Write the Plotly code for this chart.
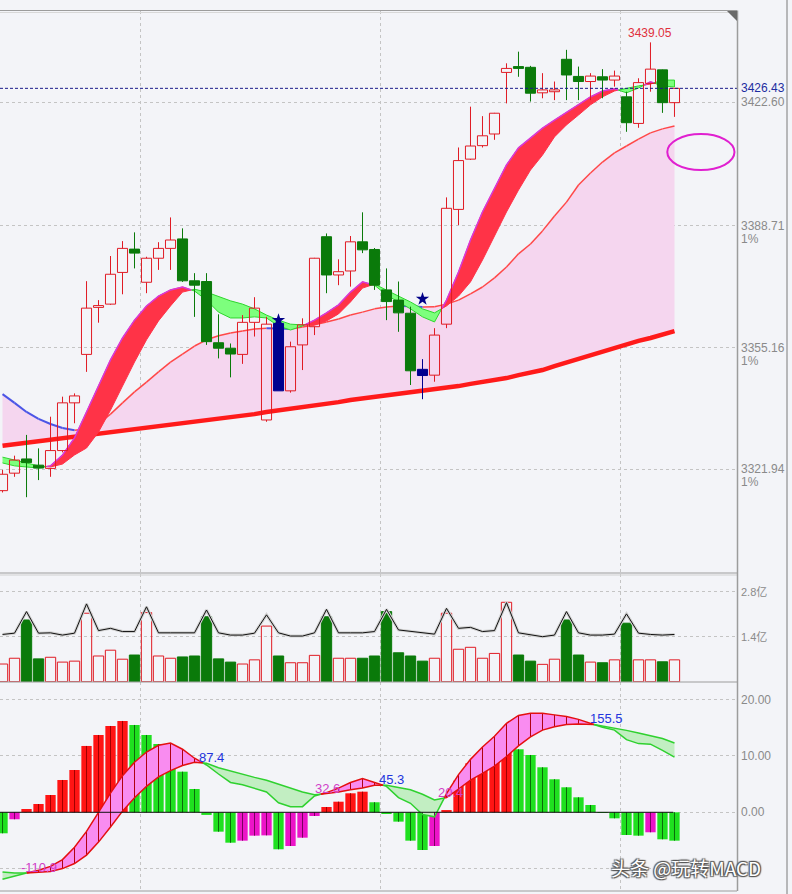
import plotly.graph_objects as go

# ---------------- data ----------------
OPEN = [3316.0, 3320.8, 3324.7, 3323.0, 3322.1, 3327.0, 3340.1, 3353.4, 3366.3, 3367.2,
        3375.9, 3382.3, 3373.2, 3379.8, 3382.5, 3385.1, 3373.6, 3373.4, 3356.6, 3355.1,
        3353.4, 3362.2, 3335.4, 3361.9, 3343.4, 3356.0, 3361.0, 3385.7, 3375.2, 3376.3,
        3384.3, 3382.2, 3371.1, 3368.3, 3364.7, 3349.3, 3347.7, 3361.7, 3393.2, 3407.0,
        3410.7, 3413.9, 3430.8, 3432.4, 3432.2, 3425.2, 3425.5, 3434.4, 3429.7, 3428.3,
        3429.6, 3428.7, 3424.1, 3416.8, 3427.8, 3431.5, 3422.5]
HIGH = [3321.7, 3325.6, 3331.3, 3327.6, 3336.3, 3341.8, 3342.7, 3373.5, 3368.3, 3380.4,
        3384.5, 3386.9, 3380.2, 3384.2, 3391.0, 3388.0, 3375.7, 3375.7, 3364.4, 3356.4,
        3364.2, 3369.1, 3363.7, 3363.4, 3356.9, 3363.3, 3379.9, 3386.6, 3379.5, 3385.9,
        3392.4, 3382.6, 3377.0, 3373.4, 3366.5, 3352.1, 3360.6, 3396.5, 3410.2, 3421.4,
        3418.8, 3419.7, 3433.3, 3436.5, 3432.6, 3430.6, 3428.3, 3437.0, 3432.4, 3430.6,
        3431.7, 3431.3, 3425.5, 3429.2, 3439.05, 3431.6, 3426.5]
LOW = [3315.5, 3319.8, 3314.2, 3318.9, 3319.8, 3326.5, 3334.5, 3348.6, 3362.1, 3367.0,
       3369.9, 3377.0, 3370.2, 3376.6, 3376.6, 3373.3, 3363.7, 3356.0, 3352.3, 3347.1,
       3350.8, 3358.3, 3334.9, 3343.4, 3342.9, 3349.1, 3358.7, 3370.2, 3372.4, 3372.0,
       3381.2, 3371.1, 3362.8, 3359.6, 3345.0, 3341.1, 3345.9, 3360.6, 3388.9, 3406.8,
       3410.2, 3412.3, 3422.3, 3429.6, 3422.8, 3423.7, 3423.2, 3423.2, 3423.2, 3423.2,
       3423.7, 3426.9, 3414.5, 3415.6, 3425.5, 3419.7, 3418.6]
CLOSE = [3320.5, 3324.4, 3323.7, 3322.2, 3327.0, 3340.1, 3342.0, 3366.1, 3366.8, 3375.4,
         3382.5, 3381.2, 3379.8, 3382.5, 3384.8, 3373.6, 3372.4, 3356.9, 3355.1, 3353.5,
         3362.2, 3366.1, 3361.7, 3343.4, 3355.5, 3361.5, 3379.8, 3375.2, 3376.1, 3384.3,
         3382.1, 3372.4, 3367.9, 3364.8, 3348.9, 3347.6, 3358.7, 3393.5, 3406.6, 3410.6,
         3413.4, 3419.6, 3431.9, 3431.9, 3425.1, 3426.0, 3426.0, 3430.1, 3428.3, 3429.8,
         3428.7, 3429.8, 3417.0, 3428.0, 3431.7, 3422.5, 3426.43]
SIGNAL_BARS = [23, 35]            # candles drawn in blue
STAR_BARS = [23, 35]
STAR_PRICE = [3362.8, 3368.6]

FAST_MA = [3323.6, 3322.8, 3322.5, 3322.2, 3322.8, 3325.8, 3330.5, 3337.6, 3345.0, 3351.9,
           3357.9, 3362.8, 3366.7, 3369.4, 3371.1, 3371.9, 3370.8, 3368.3, 3365.0, 3363.4,
           3363.4, 3363.7, 3363.4, 3361.2, 3360.1, 3361.2, 3362.8, 3364.8, 3367.0, 3370.5,
           3373.3, 3372.4, 3369.7, 3367.8, 3365.9, 3363.7, 3362.3, 3368.3, 3376.0, 3384.8,
           3392.5, 3399.1, 3405.4, 3410.1, 3412.8, 3415.5, 3417.7, 3419.9, 3422.1, 3424.1,
           3425.7, 3426.3, 3425.2, 3426.5, 3428.2, 3427.1, 3426.8]
SLOW_MA = [3325.2, 3324.4, 3323.6, 3322.8, 3322.5, 3323.3, 3325.8, 3327.7, 3332.1, 3338.1,
           3344.7, 3351.3, 3357.4, 3362.6, 3366.7, 3370.5, 3371.3, 3370.5, 3369.2, 3368.1,
           3367.2, 3365.9, 3364.2, 3362.8, 3361.7, 3361.5, 3361.5, 3362.6, 3364.5, 3367.8,
           3371.6, 3372.7, 3371.1, 3369.4, 3367.8, 3365.9, 3364.8, 3366.7, 3369.4, 3373.3,
           3379.3, 3385.9, 3392.5, 3398.5, 3404.0, 3408.1, 3413.1, 3416.4, 3419.1, 3421.9,
           3424.1, 3425.7, 3426.5, 3427.1, 3427.6, 3428.7, 3428.7]
MID_MA = [3342.5, 3340.1, 3337.6, 3335.7, 3334.3, 3333.2, 3332.6, 3332.9, 3334.3, 3337.0,
          3340.1, 3343.1, 3345.8, 3348.6, 3351.3, 3353.5, 3355.7, 3357.4, 3358.5, 3359.3,
          3359.8, 3360.4, 3360.6, 3360.5, 3360.4, 3360.9, 3361.5, 3362.3, 3363.1, 3364.2,
          3365.0, 3365.9, 3366.4, 3366.7, 3366.6, 3366.4, 3366.5, 3367.2, 3368.3, 3370.0,
          3371.9, 3374.4, 3377.4, 3381.0, 3383.7, 3387.3, 3391.4, 3395.2, 3399.9, 3403.2,
          3406.2, 3408.7, 3410.6, 3412.5, 3414.2, 3415.3, 3416.1]
LONG_MA = [3328.3, 3328.7, 3329.1, 3329.5, 3329.9, 3330.3, 3330.7, 3331.1, 3331.5, 3332.0,
           3332.4, 3332.8, 3333.2, 3333.6, 3334.0, 3334.4, 3334.8, 3335.3, 3335.7, 3336.1,
           3336.5, 3337.0, 3337.6, 3338.0, 3338.4, 3339.0, 3339.5, 3339.9, 3340.3, 3340.9,
           3341.3, 3341.7, 3342.1, 3342.5, 3342.9, 3343.4, 3343.9, 3344.3, 3344.7, 3345.3,
           3345.8, 3346.2, 3346.9, 3347.7, 3348.4, 3349.1, 3350.2, 3351.2, 3352.1, 3353.2,
           3354.3, 3355.2, 3356.0, 3357.1, 3357.9, 3358.9, 3359.8]

VOLUME = [0.55, 0.73, 1.92, 0.71, 0.76, 0.61, 0.64, 2.13, 0.80, 0.98,
          0.70, 0.83, 2.15, 0.80, 0.73, 0.77, 0.80, 2.02, 0.71, 0.61,
          0.55, 0.68, 1.73, 0.80, 0.59, 0.59, 0.82, 2.02, 0.73, 0.73,
          0.73, 0.80, 2.18, 0.90, 0.80, 0.64, 0.73, 2.13, 1.01, 1.07,
          0.73, 0.88, 2.47, 0.83, 0.64, 0.54, 0.70, 1.92, 0.83, 0.61,
          0.59, 0.68, 1.82, 0.68, 0.68, 0.62, 0.68]
VOL_LINE = [1.47, 1.51, 2.18, 1.51, 1.52, 1.45, 1.51, 2.42, 1.59, 1.66,
            1.56, 1.56, 2.33, 1.52, 1.52, 1.52, 1.52, 2.23, 1.52, 1.45,
            1.45, 1.51, 2.08, 1.52, 1.42, 1.42, 1.52, 2.25, 1.52, 1.52,
            1.52, 1.56, 2.25, 1.61, 1.56, 1.51, 1.48, 2.28, 1.66, 1.69,
            1.56, 1.59, 2.46, 1.52, 1.45, 1.40, 1.45, 2.18, 1.52, 1.45,
            1.45, 1.48, 2.11, 1.51, 1.47, 1.45, 1.47]

MACD_HIST = [-3.73, -1.24, 0.59, 1.47, 3.07, 5.74, 7.51, 11.78, 13.73, 15.33,
             16.22, 15.51, 13.73, 12.13, 8.70, 7.21, 4.14, -0.47, -3.44, -5.40,
             -5.04, -4.15, -4.10, -6.57, -5.99, -4.51, -0.66, 0.94, 1.88, 3.37,
             3.66, 1.78, -0.30, -1.66, -5.04, -6.70, -5.99, 0.40, 5.62, 8.70,
             10.18, 11.37, 12.36, 11.19, 10.18, 7.99, 5.86, 4.44, 2.66, 1.30,
             0.05, -1.07, -4.03, -4.15, -3.55, -4.80, -5.04]
DIF = [-11.9, -11.3, -10.8, -10.3, -9.6, -8.4, -6.2, -3.4, 0.0, 3.4,
       6.5, 8.9, 10.7, 11.9, 12.3, 11.2, 9.6, 8.4, 6.8, 5.3,
       4.9, 4.2, 3.6, 1.7, 1.0, 1.0, 2.9, 3.5, 4.3, 5.3,
       6.0, 5.3, 4.6, 2.6, 1.6, -0.4, -0.8, 3.3, 6.7, 9.4,
       11.6, 13.5, 15.8, 17.2, 17.6, 17.6, 17.3, 17.0, 16.5, 15.8,
       15.1, 14.6, 12.9, 12.2, 12.1, 11.0, 9.8]
DEA = [-10.6, -10.8, -10.8, -10.7, -10.5, -10.0, -9.1, -7.6, -5.3, -2.6,
       0.2, 2.6, 4.6, 6.3, 7.4, 8.3, 8.9, 8.7, 7.9, 7.3,
       6.7, 6.2, 5.7, 5.0, 4.2, 3.6, 3.1, 3.3, 3.6, 4.0,
       4.3, 4.8, 4.8, 4.4, 4.0, 3.2, 2.2, 2.6, 4.1, 5.7,
       6.9, 8.2, 9.9, 11.8, 13.4, 14.6, 15.2, 15.6, 15.7, 15.7,
       15.35, 14.9, 14.55, 14.1, 13.6, 13.1, 12.3]
CROSS_TEXT = ["-110.9", "87.4", "32.6", "45.3", "20.4", "155.5"]
CROSS_KIND = ["gold", "dead", "gold", "dead", "gold", "dead"]

PRICE_GRID = [3422.60, 3388.71, 3355.16, 3321.94]
PRICE_GRID_PCT = ["", "1%", "1%", "1%"]
LAST_PRICE = 3426.43
VOL_GRID = [1.4, 2.8]
VOL_GRID_TEXT = ["1.4亿", "2.8亿"]
MACD_GRID = [-10, 0, 10, 20]
MACD_LABELS = [0, 10, 20]
VGRID = [11.5, 31.5, 51.5]
WATERMARK = "头条 @玩转MACD"

# ---------------- geometry / style ----------------
W, H = 792, 894
PLOT_R = 737
X_RANGE = [-0.21, 61.21]
N = len(CLOSE)
X = list(range(N))

RED = '#e01b24'
DGREEN = '#0a7a0a'
NAVY = '#00008f'
GRAYTXT = '#8a8a8a'
FONT = 'Liberation Sans, Arial, sans-serif'


def pyp(px):
    return 1 - px / H


def runs_between(xs, a, b):
    runs, cur = [], None
    for i in range(len(xs)):
        up = a[i] >= b[i]
        if cur is None:
            cur = [up, [xs[i]], [a[i]], [b[i]]]
            continue
        if up == cur[0]:
            cur[1].append(xs[i]); cur[2].append(a[i]); cur[3].append(b[i])
        else:
            d0 = a[i - 1] - b[i - 1]
            d1 = a[i] - b[i]
            t = d0 / (d0 - d1)
            xi = xs[i - 1] + t * (xs[i] - xs[i - 1])
            yi = a[i - 1] + t * (a[i] - a[i - 1])
            cur[1].append(xi); cur[2].append(yi); cur[3].append(yi)
            runs.append(cur)
            cur = [up, [xi, xs[i]], [yi, a[i]], [yi, b[i]]]
    runs.append(cur)
    return runs


def polys(runs, want_up):
    px, py = [], []
    for up, xs, a, b in runs:
        if up != want_up:
            continue
        px += xs + xs[::-1] + [None]
        py += a + b[::-1] + [None]
    return px, py


def run_lines(runs, want_up, which):
    px, py = [], []
    for r in runs:
        if r[0] != want_up:
            continue
        px += r[1] + [None]
        py += r[which] + [None]
    return px, py


def slope_segments(v, rising):
    px, py = [], []
    for i in range(len(v) - 1):
        if (v[i + 1] >= v[i]) == rising:
            px += [X[i], X[i + 1], None]
            py += [v[i], v[i + 1], None]
    return px, py


fig = go.Figure()

# ---- main panel: pink area between mid and long MA
fig.add_trace(go.Scatter(x=X, y=LONG_MA, mode='lines', line=dict(width=0, color='rgba(0,0,0,0)'),
                         showlegend=False, hoverinfo='skip'))
fig.add_trace(go.Scatter(x=X, y=MID_MA, mode='lines', line=dict(width=0, color='rgba(0,0,0,0)'),
                         fill='tonexty', fillcolor='#f5d6ef', showlegend=False, hoverinfo='skip'))
fig.add_trace(go.Scatter(x=X, y=LONG_MA, mode='lines', line=dict(width=4.5, color='#ff1a1a'),
                         showlegend=False, hoverinfo='skip'))
for rising, col, wd in [(True, '#ff4848', 1.5), (False, '#4b55e6', 2)]:
    sx, sy = slope_segments(MID_MA, rising)
    fig.add_trace(go.Scatter(x=sx, y=sy, mode='lines', line=dict(width=wd, color=col),
                             showlegend=False, hoverinfo='skip'))

# ---- short MA ribbon
rib = runs_between(X, FAST_MA, SLOW_MA)
for up, fillc, edge in [(True, '#ff3347', '#ff3347'), (False, '#7dff7d', '#2fd62f')]:
    px, py = polys(rib, up)
    fig.add_trace(go.Scatter(x=px, y=py, mode='lines', fill='toself', fillcolor=fillc,
                             line=dict(width=1, color=edge), showlegend=False, hoverinfo='skip'))
fx, fy = run_lines(rib, True, 2)
fig.add_trace(go.Scatter(x=fx, y=fy, mode='lines', line=dict(width=1.5, color='#d838d8'),
                         showlegend=False, hoverinfo='skip'))

# ---- candles
HW = 0.42
groups = {'up': [], 'down': [], 'sig': []}
for i in X:
    if i in SIGNAL_BARS:
        groups['sig'].append(i)
    elif CLOSE[i] >= OPEN[i]:
        groups['up'].append(i)
    else:
        groups['down'].append(i)

for key, col in [('up', RED), ('down', DGREEN), ('sig', NAVY)]:
    wx, wy, bx, by = [], [], [], []
    for i in groups[key]:
        top = max(OPEN[i], CLOSE[i])
        bot = min(OPEN[i], CLOSE[i])
        if HIGH[i] > top:
            wx += [i, i, None]; wy += [top, HIGH[i], None]
        if LOW[i] < bot:
            wx += [i, i, None]; wy += [bot, LOW[i], None]
        bx += [i - HW, i + HW, i + HW, i - HW, i - HW, None]
        by += [bot, bot, top, top, bot, None]
    fig.add_trace(go.Scatter(x=wx, y=wy, mode='lines', line=dict(width=1, color=col),
                             showlegend=False, hoverinfo='skip'))
    if key == 'up':
        fig.add_trace(go.Scatter(x=bx, y=by, mode='lines', line=dict(width=1, color=col),
                                 showlegend=False, hoverinfo='skip'))
    else:
        fig.add_trace(go.Scatter(x=bx, y=by, mode='lines', fill='toself', fillcolor=col,
                                 line=dict(width=1, color=col), showlegend=False, hoverinfo='skip'))

fig.add_trace(go.Scatter(x=STAR_BARS, y=STAR_PRICE, mode='markers',
                         marker=dict(symbol='star', size=10, color='#000088'),
                         showlegend=False, hoverinfo='skip'))

# ---- volume panel
is_up = [(CLOSE[i] >= OPEN[i] and i not in SIGNAL_BARS) for i in X]
vol_up = [VOLUME[i] if is_up[i] else None for i in X]
vol_dn = [VOLUME[i] if not is_up[i] else None for i in X]
fig.add_trace(go.Bar(x=X, y=vol_dn, width=0.86, marker=dict(color=DGREEN, line=dict(width=1, color=DGREEN)),
                     xaxis='x2', yaxis='y2', showlegend=False, hoverinfo='skip'))
fig.add_trace(go.Bar(x=X, y=vol_up, width=0.86, marker=dict(color='rgba(0,0,0,0)', line=dict(width=1, color=RED)),
                     xaxis='x2', yaxis='y2', showlegend=False, hoverinfo='skip'))
fig.add_trace(go.Scatter(x=X, y=VOL_LINE, mode='lines', line=dict(width=3, color='#d2d2d2'),
                         xaxis='x2', yaxis='y2', showlegend=False, hoverinfo='skip'))
fig.add_trace(go.Scatter(x=X, y=VOL_LINE, mode='lines', line=dict(width=1, color='#111111'),
                         xaxis='x2', yaxis='y2', showlegend=False, hoverinfo='skip'))

# ---- MACD panel
bar_cols, stick_cols = [], []
for i, v in enumerate(MACD_HIST):
    prev = MACD_HIST[i - 1] if i > 0 else v + 1
    if v >= 0:
        if v >= prev:
            bar_cols.append('#ff1414'); stick_cols.append('#a00000')
        else:
            bar_cols.append('#1fe01f'); stick_cols.append('#0a6a0a')
    else:
        if v <= prev:
            bar_cols.append('#1fe01f'); stick_cols.append('#0a6a0a')
        else:
            bar_cols.append('#ec14c8'); stick_cols.append('#7a0060')
fig.add_trace(go.Bar(x=X, y=MACD_HIST, width=0.86, marker=dict(color=bar_cols, line=dict(width=0)),
                     xaxis='x3', yaxis='y3', showlegend=False, hoverinfo='skip'))

mr = runs_between(X, DIF, DEA)
for up, fillc, edge in [(True, '#f98cf0', '#e41010'), (False, '#c2eec2', '#2fd12f')]:
    px, py = polys(mr, up)
    fig.add_trace(go.Scatter(x=px, y=py, mode='lines', fill='toself', fillcolor=fillc,
                             line=dict(width=0, color=edge), showlegend=False, hoverinfo='skip',
                             xaxis='x3', yaxis='y3'))
for col in set(stick_cols):
    sx, sy = [], []
    for i in X:
        if stick_cols[i] == col and abs(MACD_HIST[i]) > 0.6:
            sx += [i, i, None]; sy += [0, MACD_HIST[i], None]
    fig.add_trace(go.Scatter(x=sx, y=sy, mode='lines', line=dict(width=1, color=col),
                             xaxis='x3', yaxis='y3', showlegend=False, hoverinfo='skip'))
hx, hy = [], []
for i in X:
    if DIF[i] > DEA[i]:
        hx += [i, i, None]; hy += [DEA[i], DIF[i], None]
fig.add_trace(go.Scatter(x=hx, y=hy, mode='lines', line=dict(width=1, color='#b00010'),
                         xaxis='x3', yaxis='y3', showlegend=False, hoverinfo='skip'))
for up, edge in [(True, '#e41010'), (False, '#2fd12f')]:
    for which in (2, 3):
        lx, ly = run_lines(mr, up, which)
        fig.add_trace(go.Scatter(x=lx, y=ly, mode='lines', line=dict(width=1.5, color=edge),
                                 xaxis='x3', yaxis='y3', showlegend=False, hoverinfo='skip'))
fig.add_trace(go.Scatter(x=[X_RANGE[0], X[-1] - 0.1], y=[0, 0], mode='lines',
                         line=dict(width=1, color='#111111'),
                         xaxis='x3', yaxis='y3', showlegend=False, hoverinfo='skip'))

# ---------------- layout ----------------
grid = dict(showgrid=True, gridcolor='#c4c4c4', griddash='3px,3px', gridwidth=1,
            zeroline=False, showticklabels=False, ticks='', showline=False, fixedrange=True)
xdom = [0, PLOT_R / W]
layout = dict(
    width=W, height=H, margin=dict(l=0, r=0, t=0, b=0),
    paper_bgcolor='#f3f4f8', plot_bgcolor='#f3f4f8',
    barmode='overlay', showlegend=False,
    xaxis=dict(domain=xdom, range=X_RANGE, tickvals=VGRID, anchor='y', **grid),
    xaxis2=dict(domain=xdom, range=X_RANGE, tickvals=VGRID, anchor='y2', **grid),
    xaxis3=dict(domain=xdom, range=X_RANGE, tickvals=VGRID, anchor='y3', **grid),
    yaxis=dict(domain=[pyp(574), pyp(11)], range=[3293.12, 3447.66], tickvals=PRICE_GRID, anchor='x', **grid),
    yaxis2=dict(domain=[pyp(682), pyp(574)], range=[-0.009, 3.35], tickvals=VOL_GRID, anchor='x2', **grid),
    yaxis3=dict(domain=[pyp(891), pyp(682)], range=[-13.98, 23.14], tickvals=MACD_GRID, anchor='x3', **grid),
)
fig.update_layout(**layout)

shapes = []
lab_x = 739 / W
shapes.append(dict(type='line', xref='paper', yref='y', x0=0, x1=PLOT_R / W, y0=LAST_PRICE, y1=LAST_PRICE,
                   line=dict(color='#1a1a8a', width=1, dash='3px,2px')))
for ypx, col in [(10.5, '#9c9c9c'), (12.5, '#d8d8d8'), (573, '#9c9c9c'), (575, '#d0d0d0'),
                 (682, '#9c9c9c'), (891, '#9c9c9c')]:
    shapes.append(dict(type='line', xref='paper', yref='paper', x0=0, x1=PLOT_R / W,
                       y0=pyp(ypx), y1=pyp(ypx), line=dict(color=col, width=1)))
shapes.append(dict(type='line', xref='paper', yref='paper', x0=(PLOT_R + 0.5) / W, x1=(PLOT_R + 0.5) / W,
                   y0=pyp(891), y1=pyp(10.5), line=dict(color='#9c9c9c', width=1.5)))
shapes.append(dict(type='line', xref='paper', yref='paper', x0=787 / W, x1=787 / W,
                   y0=0, y1=1, line=dict(color='#7a7a7a', width=1)))
shapes.append(dict(type='path', xref='paper', yref='paper',
                   path=f'M {727/W} {pyp(11)} L {737/W} {pyp(11)} L {737/W} {pyp(21)} Z',
                   fillcolor='#6a6a6a', line=dict(width=0)))
shapes.append(dict(type='circle', xref='x', yref='y', x0=55.4, x1=61.0, y0=3404.0, y1=3413.9,
                   line=dict(color='#e020d0', width=2)))
fig.update_layout(shapes=shapes)

ann = []
for p, pct in zip(PRICE_GRID, PRICE_GRID_PCT):
    ann.append(dict(xref='paper', yref='y', x=lab_x, y=p, text=f'{p:.2f}', showarrow=False,
                    xanchor='left', yanchor='middle', font=dict(family=FONT, size=12, color=GRAYTXT)))
    if pct:
        ann.append(dict(xref='paper', yref='y', x=lab_x, y=p, yshift=-13, text=pct, showarrow=False,
                        xanchor='left', yanchor='middle', font=dict(family=FONT, size=12, color=GRAYTXT)))
ann.append(dict(xref='paper', yref='y', x=lab_x, y=LAST_PRICE, text=f'{LAST_PRICE:.2f}', showarrow=False,
                xanchor='left', yanchor='middle', font=dict(family=FONT, size=12, color='#1c2ca0')))
hi_i = max(X, key=lambda i: HIGH[i])
ann.append(dict(xref='x', yref='y', x=hi_i, y=HIGH[hi_i], text=f'{HIGH[hi_i]:.2f}', showarrow=False,
                xanchor='center', yanchor='bottom', yshift=0, font=dict(family=FONT, size=12, color='#e0303c')))
for v, t in zip(VOL_GRID, VOL_GRID_TEXT):
    ann.append(dict(xref='paper', yref='y2', x=lab_x, y=v, text=t, showarrow=False,
                    xanchor='left', yanchor='middle',
                    font=dict(family='Liberation Sans, Noto Sans CJK SC', size=11, color=GRAYTXT)))
for v in MACD_LABELS:
    ann.append(dict(xref='paper', yref='y3', x=lab_x, y=v, text=f'{v:.2f}', showarrow=False,
                    xanchor='left', yanchor='middle', font=dict(family=FONT, size=12, color=GRAYTXT)))

crosses = []
for i in range(1, N):
    d0, d1 = DIF[i - 1] - DEA[i - 1], DIF[i] - DEA[i]
    if (d0 >= 0) != (d1 >= 0):
        t = d0 / (d0 - d1)
        crosses.append((i - 1 + t, DEA[i - 1] + t * (DEA[i] - DEA[i - 1])))
for (cx, cy), txt, kind in zip(crosses, CROSS_TEXT, CROSS_KIND):
    col = '#d040c8' if kind == 'gold' else '#2233dd'
    ann.append(dict(xref='x3', yref='y3', x=cx, y=cy, text=txt, showarrow=False,
                    xanchor='left', yanchor='bottom', xshift=-6 if kind == 'dead' else -8, yshift=-4,
                    font=dict(family=FONT, size=13, color=col)))

ann.append(dict(xref='paper', yref='paper', x=686 / W, y=pyp(867), text=WATERMARK, showarrow=False,
                xanchor='center', yanchor='middle',
                font=dict(family='Noto Sans CJK SC', size=19, color='#ffffff',
                          shadow='1px 1px 1px #555, -1px -1px 1px #555, 1px -1px 1px #555, -1px 1px 1px #555')))
fig.update_layout(annotations=ann)

fig.write_html('out.html', config={'displayModeBar': False},
               post_script="document.body.style.margin='0';document.body.style.overflow='hidden';")
